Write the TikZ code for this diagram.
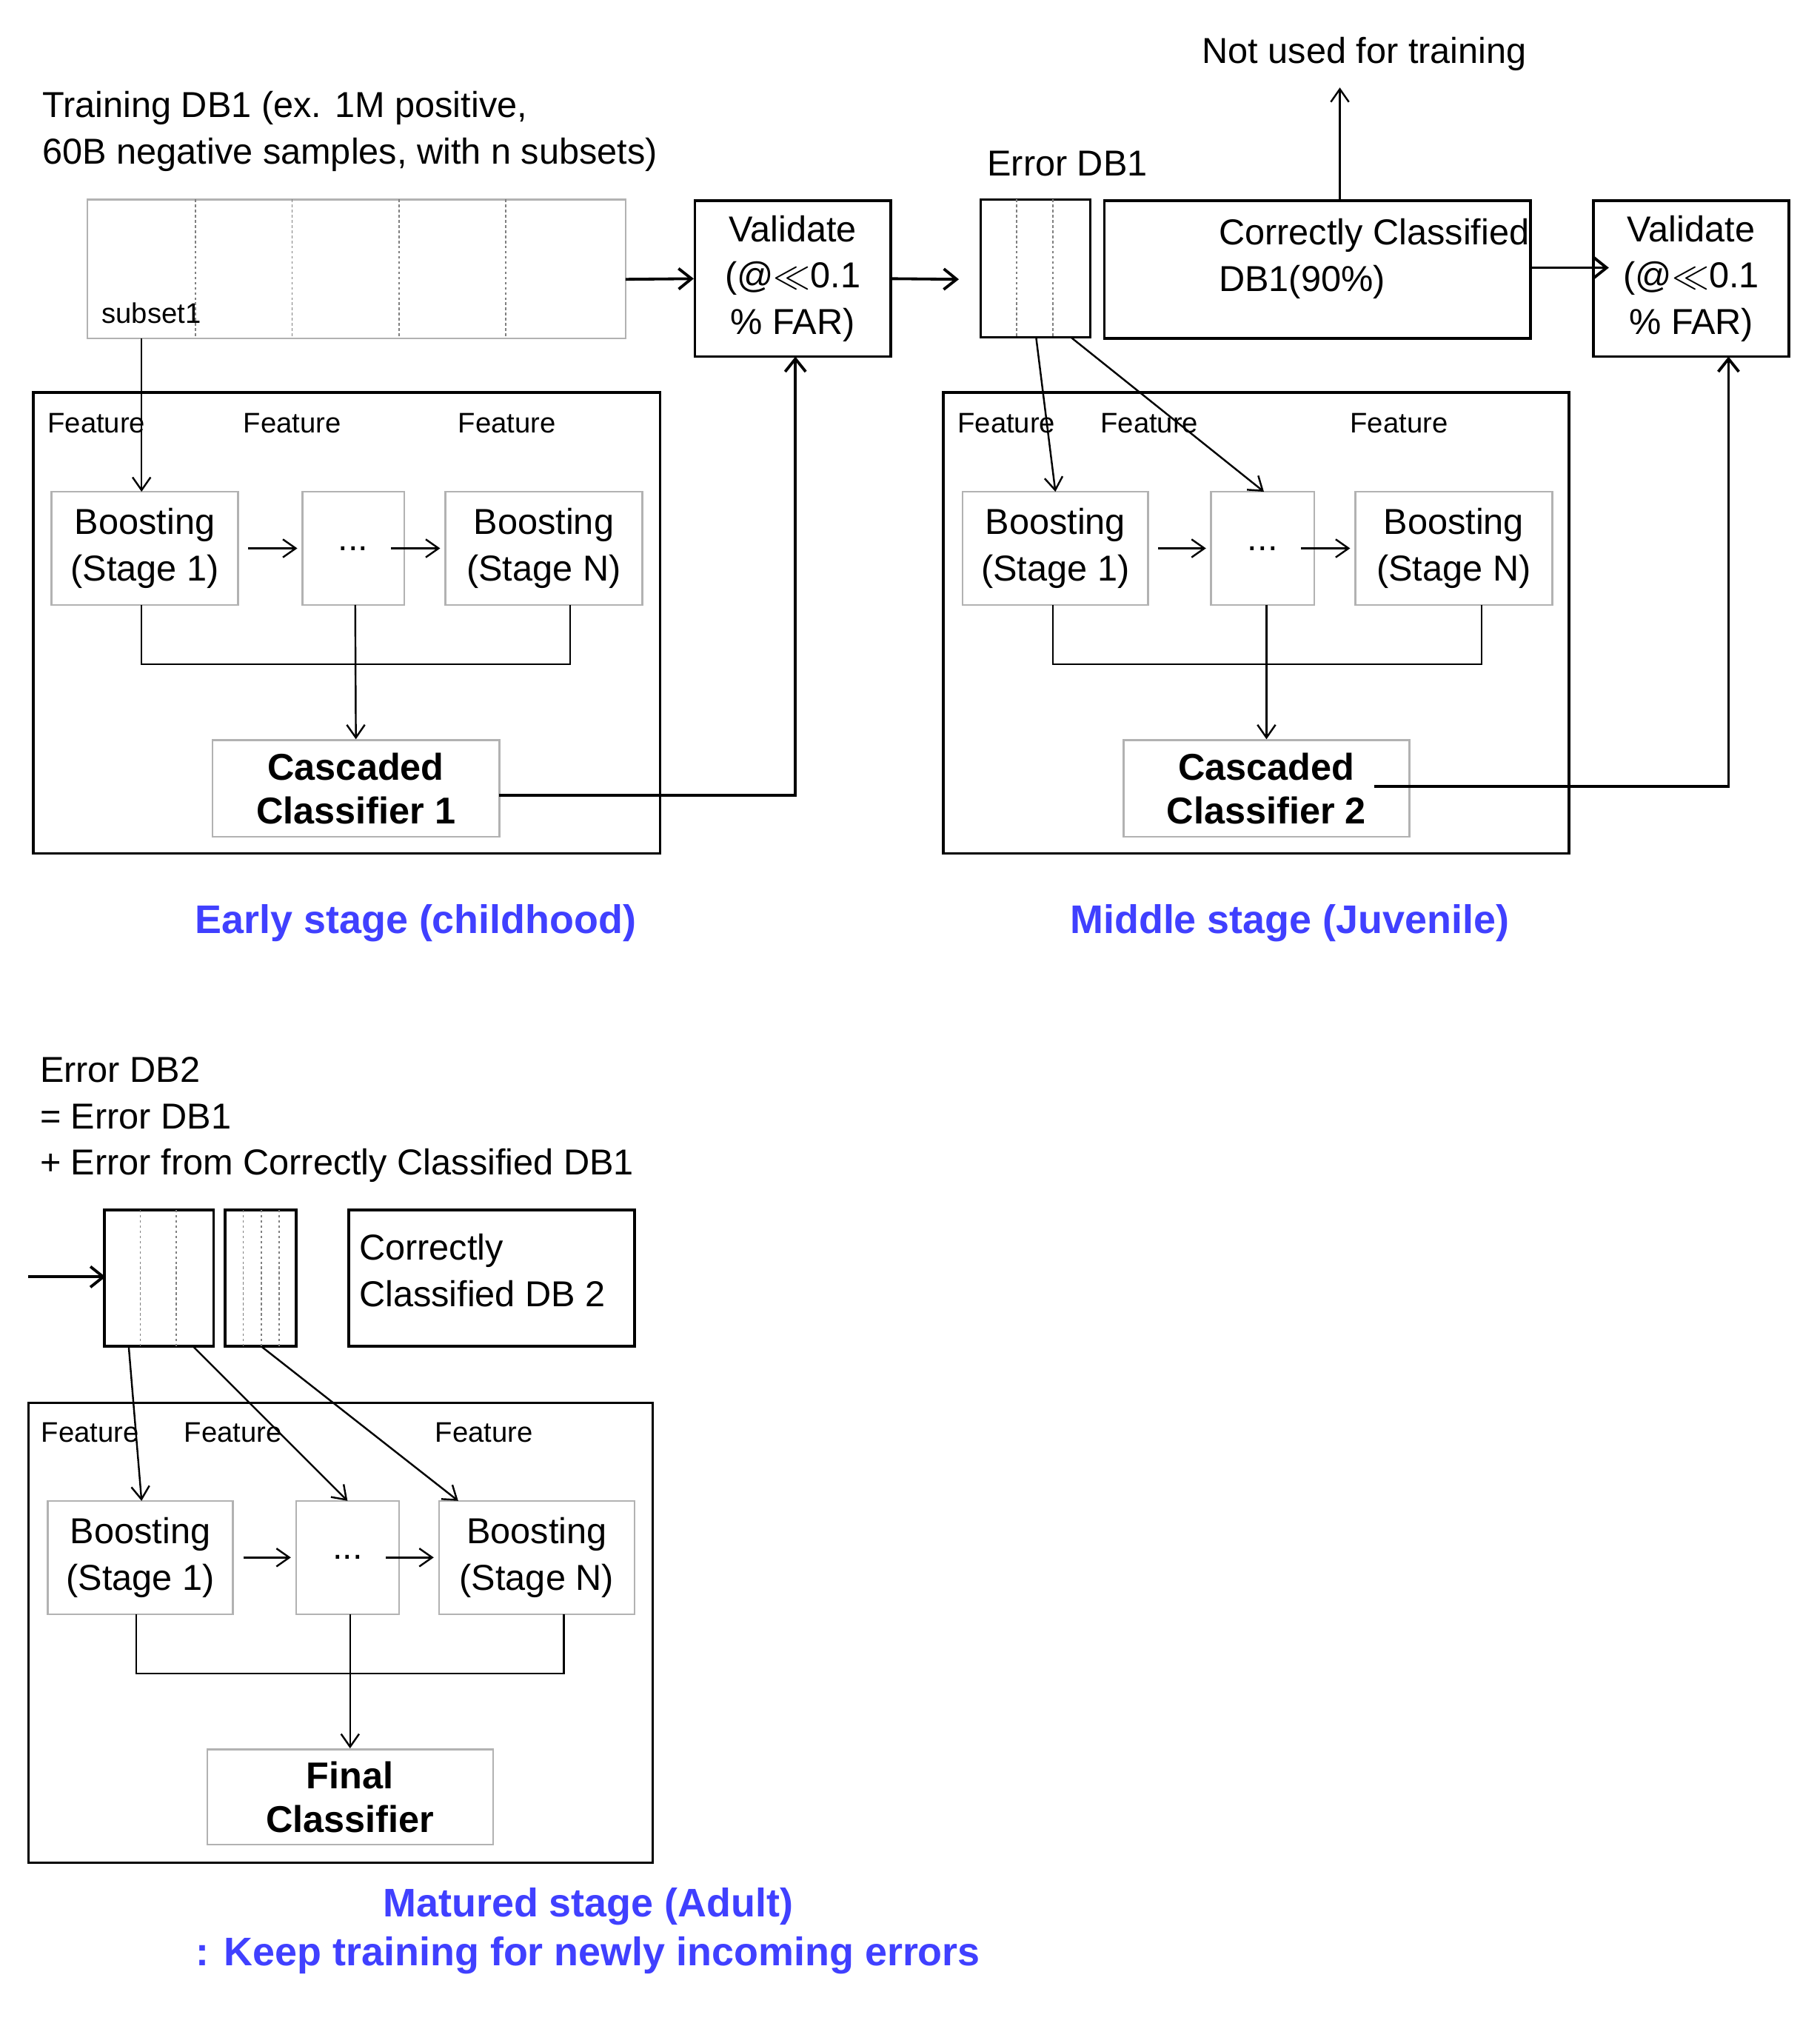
\documentclass[tikz,border=0pt]{standalone}
\usepackage{fontspec}
\setmainfont{Liberation Sans}
\usetikzlibrary{arrows.meta}
\begin{document}
\begin{tikzpicture}[x=0.5pt,y=-0.5pt,
  ln/.style={line width=0.7pt},
  ar/.style={ln,-{Straight Barb[length=5pt,width=7pt]}},
  tar/.style={line width=1.1pt,-{Straight Barb[length=5pt,width=8pt]}},
  gbox/.style={draw=gray!60,line width=0.7pt},
  bbox/.style={draw=black,line width=1pt},
  dv/.style={draw=gray,dash pattern=on 1pt off 1pt,line width=0.5pt},
  big/.style={font=\fontsize{14}{18}\selectfont},
  sm/.style={font=\fontsize{11}{13}\selectfont},
  bl/.style={font=\fontsize{15.5}{19}\selectfont\bfseries,text=blue!75!white},
  cb/.style={font=\fontsize{14.5}{17}\selectfont\bfseries,align=center}]
\useasboundingbox (0,0) rectangle (1414,1574);
% ---------- early stage
\node[big,anchor=west,align=left] (tdb) at (26,102) {Training DB1 (ex. 1M positive,\\60B negative samples, with n subsets)};
\draw[gbox] (68,155) rectangle (486,263);
\coordinate (db1e) at (486,217);
\foreach \x in {152,227,310,393} \draw[dv] (\x,155)--(\x,263);
\node[sm,anchor=west] (sub) at (72,243) {subset1};
\node[bbox,minimum width=76pt,minimum height=60.5pt,big,align=center] (v1) at (616,216.5) {Validate\\(@$\ll$0.1\\\% FAR)};
\draw[tar] (db1e) -- (v1.west);
\draw[bbox] (26,305) rectangle (513,663);
\node[sm] (f1) at (75,329) {Feature};
\node[sm] (f2) at (227,329) {Feature};
\node[sm] (f3) at (394,329) {Feature};
\node[gbox,minimum width=72.5pt,minimum height=44pt,big,align=center] (b1) at (112.5,426) {Boosting\\(Stage 1)};
\node[gbox,minimum width=39.5pt,minimum height=44pt,big] (d1) at (274.5,426) {...};
\node[gbox,minimum width=76.5pt,minimum height=44pt,big,align=center] (bn) at (422.5,426) {Boosting\\(Stage N)};
\draw[ar] (193,426) -- (231,426);
\draw[ar] (304,426) -- (342,426);
\draw[ar] (110,263) -- (110,382);
\draw[ln] (110,470)--(110,516)--(443,516)--(443,470);
\node[gbox,minimum width=111.5pt,minimum height=37.5pt,cb] (c1) at (276.5,612.5) {Cascaded\\Classifier 1};
\draw[ar] (276,470) -- (c1.north);
\draw[tar] (388,618) -- (618,618) -- (618,277);
\node[bl] (es) at (323,717) {Early stage (childhood)};
% ---------- middle stage
\node[big,anchor=west] (edl) at (760,127) {Error DB1};
\draw[bbox] (762,155) rectangle (847,262);
\foreach \x in {790,818} \draw[dv] (\x,155)--(\x,262);
\coordinate (v1e) at (745,217);
\draw[tar] (v1.east) -- (v1e);
\node[bbox,minimum width=165.5pt,minimum height=53.5pt] (cc) at (1023.5,209.5) {};
\node[big,anchor=west,align=left] (cct) at (940,201) {Correctly Classified\\DB1(90\%)};
\node[big] (nu) at (1060,42) {Not used for training};
\draw[ar] (1041,156) -- (1041,68);
\node[bbox,minimum width=76pt,minimum height=60.5pt,big,align=center] (v2) at (1314,216.5) {Validate\\(@$\ll$0.1\\\% FAR)};
\draw[tar] (1189,208) -- (1250,208);
\draw[bbox] (733,305) rectangle (1219,663);
\node[sm] (g1) at (782,329) {Feature};
\node[sm] (g2) at (893,329) {Feature};
\node[sm] (g3) at (1087,329) {Feature};
\node[gbox,minimum width=72pt,minimum height=44pt,big,align=center] (m1) at (820,426) {Boosting\\(Stage 1)};
\node[gbox,minimum width=40pt,minimum height=44pt,big] (md) at (981,426) {...};
\node[gbox,minimum width=76.5pt,minimum height=44pt,big,align=center] (mn) at (1129.5,426) {Boosting\\(Stage N)};
\draw[ar] (900,426) -- (937,426);
\draw[ar] (1011,426) -- (1049,426);
\draw[ar] (805,262) -- (820,382);
\draw[ar] (832,262) -- (982,382);
\draw[ln] (818,470)--(818,516)--(1151,516)--(1151,470);
\node[gbox,minimum width=111pt,minimum height=37.5pt,cb] (c2) at (984,612.5) {Cascaded\\Classifier 2};
\draw[ar] (984,470) -- (c2.north);
\draw[tar] (1068,611) -- (1343,611) -- (1343,277);
\node[bl] (ms) at (1002,717) {Middle stage (Juvenile)};
% ---------- matured stage
\node[big,anchor=west,align=left] (e2) at (24,870) {Error DB2\\= Error DB1\\+ Error from Correctly Classified DB1};
\coordinate (in) at (22,992);
\draw[bbox] (81,940) rectangle (166,1046);
\foreach \x in {109,137} \draw[dv] (\x,940)--(\x,1046);
\draw[tar] (in) -- (82,992);
\draw[bbox] (175,940) rectangle (230,1046);
\foreach \x in {189,203,217} \draw[dv] (\x,940)--(\x,1046);
\draw[bbox] (271,940) rectangle (493,1046);
\node[big,anchor=west,align=left] (cc2) at (272,987) {Correctly\\Classified DB 2};
\draw[bbox] (22,1090) rectangle (507,1447);
\node[sm] (h1) at (70,1113) {Feature};
\node[sm] (h2) at (181,1113) {Feature};
\node[sm] (h3) at (376,1113) {Feature};
\node[gbox,minimum width=72pt,minimum height=44pt,big,align=center] (a1) at (109,1210) {Boosting\\(Stage 1)};
\node[gbox,minimum width=40pt,minimum height=44pt,big] (ad) at (270,1210) {...};
\node[gbox,minimum width=76pt,minimum height=44pt,big,align=center] (an) at (417,1210) {Boosting\\(Stage N)};
\draw[ar] (189,1210) -- (226,1210);
\draw[ar] (300,1210) -- (337,1210);
\draw[ar] (100,1046) -- (110,1166);
\draw[ar] (150,1046) -- (270,1166);
\draw[ar] (203,1046) -- (356,1166);
\draw[ln] (106,1254)--(106,1300)--(438,1300)--(438,1254);
\node[gbox,minimum width=111pt,minimum height=37pt,cb] (fc) at (272,1396) {Final\\Classifier};
\draw[ar] (272,1254) -- (fc.north);
\node[bl,align=center] (mt) at (457,1500) {Matured stage (Adult)\\: Keep training for newly incoming errors};
\end{tikzpicture}
\end{document}
